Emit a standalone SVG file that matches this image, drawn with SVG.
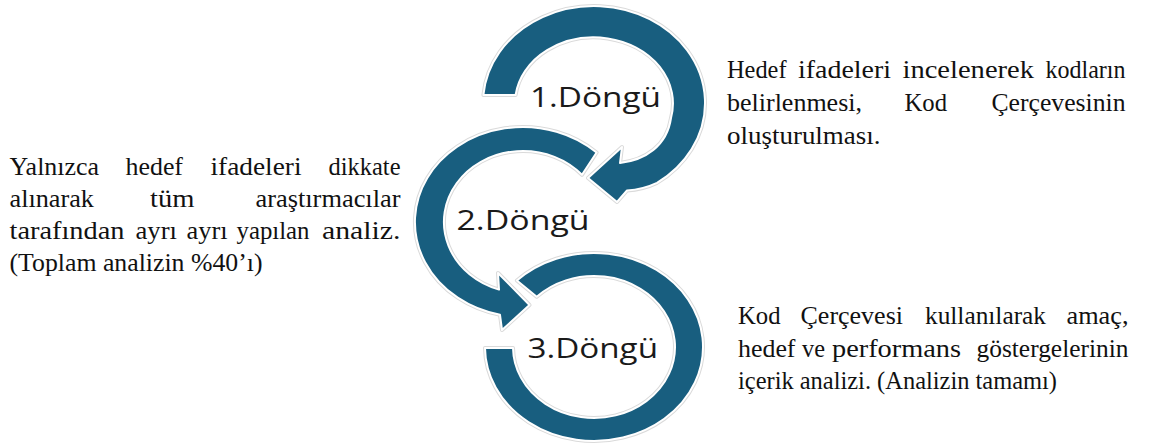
<svg xmlns="http://www.w3.org/2000/svg" xmlns:xlink="http://www.w3.org/1999/xlink" width="1149" height="443" viewBox="0 0 1149 443">
  <style>
    .halo { fill: #dadada; stroke: #dadada; stroke-width: 4; stroke-linejoin: round; }
    .band { fill: #185E7F; stroke: #ffffff; stroke-width: 2; stroke-linejoin: round; }
    .label { font-family: "Open Sans", "Noto Sans", sans-serif; font-size: 27.5px; fill: #1a1a1a; }
    .body text { font-family: "Liberation Serif", "Times New Roman", serif; font-size: 26px; fill: #111111; }
  </style>
  <defs>
    <!-- cycle 1: clockwise band from the left, arrowhead at lower right -->
    <path id="arc1" d="M 483.4,95 A 111 97 0 1 1 657,182.9 Q 643,189.5 627,190.5 L 617,202 L 588,178 L 622,147 L 620,163 C 645,160 667,146 671,118 A 79 66 0 1 0 515.6,95 Z"/>
    <!-- cycle 2: counter-clockwise band from the upper right, arrowhead at lower right -->
    <path id="arc2" d="M 596.6,152.5 A 108 95 0 1 0 500,314.8 L 502,330 L 529.5,305 L 498,273 L 499,289.6 A 79 71 0 1 1 582,174.8 Z"/>
    <!-- cycle 3: closing ring from the upper left round to the left side -->
    <path id="arc3" d="M 516.9,280.5 A 109 94 0 1 1 485,348 L 513,348 A 81 71 0 1 0 536.7,296.8 Z"/>
  </defs>

  <g id="cycle-2">
    <use xlink:href="#arc2" class="halo"/>
    <use xlink:href="#arc2" class="band"/>
    <text class="label" x="456.5" y="230" textLength="133" lengthAdjust="spacingAndGlyphs">2.Döngü</text>
  </g>

  <g id="cycle-3">
    <use xlink:href="#arc3" class="halo"/>
    <use xlink:href="#arc3" class="band"/>
    <text class="label" x="527.5" y="358.3" textLength="130.5" lengthAdjust="spacingAndGlyphs">3.Döngü</text>
  </g>

  <g id="cycle-1">
    <use xlink:href="#arc1" class="halo"/>
    <use xlink:href="#arc1" class="band"/>
    <text class="label" x="530" y="106.5" textLength="131" lengthAdjust="spacingAndGlyphs">1.Döngü</text>
  </g>

  <!-- description of cycle 1 (justified paragraph, one text per word) -->
  <g id="note-1" class="body">
    <text x="727" y="77.5" textLength="59.5" lengthAdjust="spacingAndGlyphs">Hedef</text>
    <text x="798" y="77.5" textLength="93" lengthAdjust="spacingAndGlyphs">ifadeleri</text>
    <text x="902.5" y="77.5" textLength="131.5" lengthAdjust="spacingAndGlyphs">incelenerek</text>
    <text x="1045.5" y="77.5" textLength="80" lengthAdjust="spacingAndGlyphs">kodların</text>
    <text x="727" y="110.5" textLength="135" lengthAdjust="spacingAndGlyphs">belirlenmesi,</text>
    <text x="904.5" y="110.5" textLength="42.5" lengthAdjust="spacingAndGlyphs">Kod</text>
    <text x="991.5" y="110.5" textLength="134" lengthAdjust="spacingAndGlyphs">Çerçevesinin</text>
    <text x="727" y="143.5" textLength="153.5" lengthAdjust="spacingAndGlyphs">oluşturulması.</text>
  </g>

  <!-- description of cycle 2 -->
  <g id="note-2" class="body">
    <text x="9.5" y="174.5" textLength="89.5" lengthAdjust="spacingAndGlyphs">Yalnızca</text>
    <text x="125.5" y="174.5" textLength="57.5" lengthAdjust="spacingAndGlyphs">hedef</text>
    <text x="210.5" y="174.5" textLength="91" lengthAdjust="spacingAndGlyphs">ifadeleri</text>
    <text x="328.5" y="174.5" textLength="72" lengthAdjust="spacingAndGlyphs">dikkate</text>
    <text x="9.5" y="206.5" textLength="84.5" lengthAdjust="spacingAndGlyphs">alınarak</text>
    <text x="150" y="206.5" textLength="44.5" lengthAdjust="spacingAndGlyphs">tüm</text>
    <text x="255.5" y="206.5" textLength="145" lengthAdjust="spacingAndGlyphs">araştırmacılar</text>
    <text x="9.5" y="238.5" textLength="115" lengthAdjust="spacingAndGlyphs">tarafından</text>
    <text x="135.5" y="238.5" textLength="41.5" lengthAdjust="spacingAndGlyphs">ayrı</text>
    <text x="186.5" y="238.5" textLength="41" lengthAdjust="spacingAndGlyphs">ayrı</text>
    <text x="236.5" y="238.5" textLength="73" lengthAdjust="spacingAndGlyphs">yapılan</text>
    <text x="322" y="238.5" textLength="78.5" lengthAdjust="spacingAndGlyphs">analiz.</text>
    <text x="9.5" y="270.5" textLength="253" lengthAdjust="spacingAndGlyphs">(Toplam analizin %40’ı)</text>
  </g>

  <!-- description of cycle 3 -->
  <g id="note-3" class="body">
    <text x="738" y="324" textLength="42.5" lengthAdjust="spacingAndGlyphs">Kod</text>
    <text x="800.5" y="324" textLength="102.5" lengthAdjust="spacingAndGlyphs">Çerçevesi</text>
    <text x="925" y="324" textLength="121" lengthAdjust="spacingAndGlyphs">kullanılarak</text>
    <text x="1066.5" y="324" textLength="62" lengthAdjust="spacingAndGlyphs">amaç,</text>
    <text x="738" y="356.5" textLength="57.5" lengthAdjust="spacingAndGlyphs">hedef</text>
    <text x="802" y="356.5" textLength="23" lengthAdjust="spacingAndGlyphs">ve</text>
    <text x="832" y="356.5" textLength="129" lengthAdjust="spacingAndGlyphs">performans</text>
    <text x="976.5" y="356.5" textLength="152" lengthAdjust="spacingAndGlyphs">göstergelerinin</text>
    <text x="738" y="389" textLength="319" lengthAdjust="spacingAndGlyphs">içerik analizi. (Analizin tamamı)</text>
  </g>
</svg>
